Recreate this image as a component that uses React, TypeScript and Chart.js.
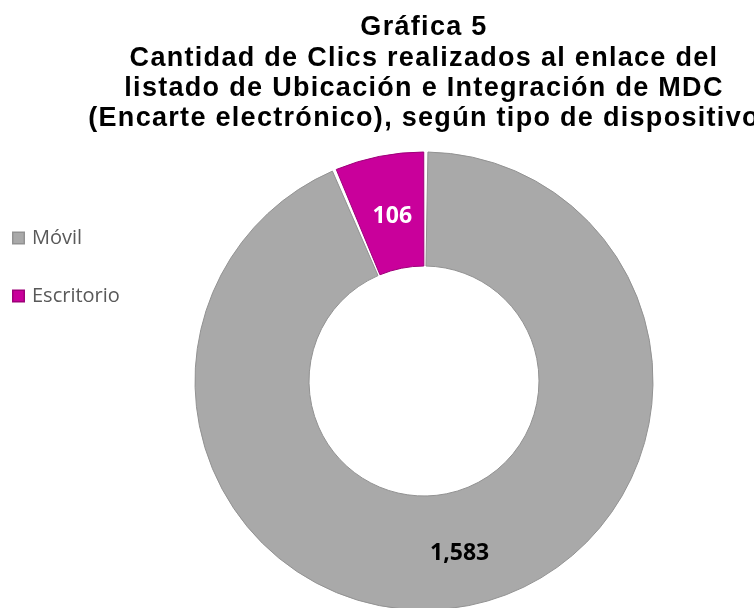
import { useEffect, useRef } from 'react';
import { Chart, registerables } from 'chart.js';

Chart.register(...registerables);

const categories = ['Móvil', 'Escritorio'];
const clicks = [1583, 106];
const titleLines = [
  'Gráfica 5',
  'Cantidad de Clics realizados al enlace del',
  'listado de Ubicación e Integración de MDC',
  '(Encarte electrónico), según tipo de dispositivo',
];
const sliceColors = ['#A9A9A9', '#C9009B'];
const sliceBorders = ['#929292', '#9E0079'];
const valueLabelColors = ['#000000', '#FFFFFF'];

const overlay = {
  id: 'overlay',
  afterDraw(chart: any) {
    const ctx = chart.ctx as CanvasRenderingContext2D;
    ctx.save();
    // Title
    ctx.fillStyle = '#000000';
    ctx.font = 'bold 27px "Liberation Sans", Arial, sans-serif';
    ctx.textAlign = 'center';
    ctx.textBaseline = 'middle';
    (ctx as any).letterSpacing = '1.3px';
    const cx = (chart.chartArea.left + chart.chartArea.right) / 2;
    titleLines.forEach((line, i) => {
      ctx.fillText(line, cx, 28 + i * 30.3);
    });
    (ctx as any).letterSpacing = '0px';

    // Legend
    ctx.textAlign = 'left';
    ctx.font = '20px "Open Sans", sans-serif';
    categories.forEach((cat, i) => {
      const y = 238 + i * 58;
      ctx.fillStyle = sliceBorders[i];
      ctx.fillRect(12, y - 6.5, 13, 13);
      ctx.fillStyle = sliceColors[i];
      ctx.fillRect(13.5, y - 5, 10, 10);
      ctx.fillStyle = '#595959';
      ctx.fillText(cat, 32, y);
    });

    // Value labels
    const meta = chart.getDatasetMeta(0);
    ctx.textAlign = 'center';
    ctx.font = 'bold 23px "Open Sans", sans-serif';
    meta.data.forEach((arc: any, i: number) => {
      const p = arc.tooltipPosition();
      ctx.fillStyle = valueLabelColors[i];
      ctx.fillText(clicks[i].toLocaleString('en-US'), p.x + 2, p.y + 4);
    });
    ctx.restore();
  },
};

export default function App() {
  const ref = useRef<HTMLCanvasElement>(null);
  useEffect(() => {
    const chart = new Chart(ref.current as HTMLCanvasElement, {
      type: 'doughnut',
      data: {
        labels: categories,
        datasets: [
          {
            data: clicks,
            backgroundColor: sliceColors,
            borderColor: sliceBorders,
            borderWidth: 1,
            hoverBorderWidth: 1,
            hoverOffset: 0,
            offset: 0,
          },
        ],
      },
      options: {
        responsive: false,
        animation: false,
        events: [],
        cutout: '50%',
        spacing: 2,
        layout: { padding: { left: 194.5, right: 100.5, top: 151.5, bottom: 9.5 } },
        plugins: {
          legend: { display: false },
          tooltip: { enabled: false },
          title: { display: false },
        },
      } as any,
      plugins: [overlay],
    });
    return () => chart.destroy();
  }, []);
  return (
    <div style={{ position: 'absolute', left: 0, top: 0, width: 754, height: 608, overflow: 'hidden', background: '#ffffff' }}>
      <canvas ref={ref} width={754} height={620} style={{ display: 'block' }} />
    </div>
  );
}
